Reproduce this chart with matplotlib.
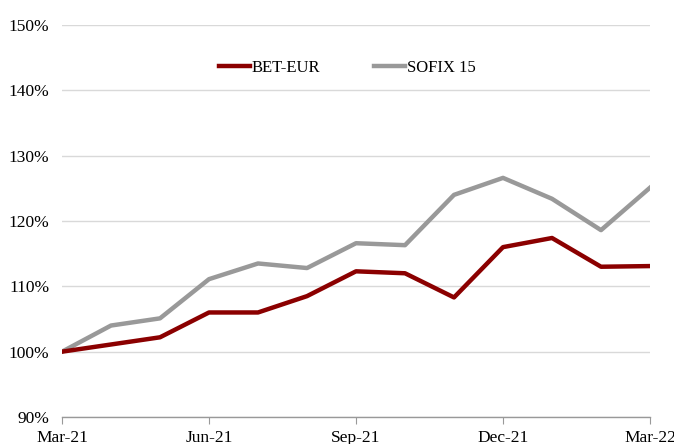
import matplotlib.pyplot as plt
from matplotlib.ticker import FuncFormatter

plt.rcParams['font.family'] = ['Liberation Serif', 'DejaVu Serif']

months = ['Mar-21', 'Apr-21', 'May-21', 'Jun-21', 'Jul-21', 'Aug-21', 'Sep-21',
          'Oct-21', 'Nov-21', 'Dec-21', 'Jan-22', 'Feb-22', 'Mar-22']
bet_eur = [100.0, 101.1, 102.2, 106.0, 106.0, 108.5, 112.3,
           112.0, 108.3, 116.0, 117.4, 113.0, 113.1]
sofix15 = [100.0, 104.0, 105.1, 111.1, 113.5, 112.8, 116.6,
           116.3, 124.0, 126.6, 123.4, 118.6, 125.1]
tick_labels = ['Mar-21', 'Jun-21', 'Sep-21', 'Dec-21', 'Mar-22']


def main():
    fig = plt.figure(figsize=(6.74, 4.44), dpi=100)
    ax = fig.add_axes([0.092, 0.0608, 0.8724, 0.8829])
    x = list(range(len(months)))

    ax.plot(x, bet_eur, color='#8b0000', lw=3.2, label='BET-EUR', zorder=3)
    ax.plot(x, sofix15, color='#999999', lw=3.2, label='SOFIX 15', zorder=2)

    ax.set_xlim(0, len(months) - 1)
    ax.set_ylim(90, 150)
    ax.set_yticks(range(90, 151, 10))
    ax.yaxis.set_major_formatter(FuncFormatter(lambda v, p: f'{v:.0f}%'))
    ax.set_xticks([months.index(t) for t in tick_labels])
    ax.set_xticklabels(tick_labels)

    ax.grid(axis='y', color='#d9d9d9', lw=1.0, zorder=0)
    ax.set_axisbelow(True)
    for side in ('left', 'right', 'top'):
        ax.spines[side].set_visible(False)
    ax.spines['bottom'].set_color('#999999')
    ax.spines['bottom'].set_linewidth(1.0)
    ax.tick_params(axis='y', length=0, pad=9, labelsize=12.5)
    ax.tick_params(axis='x', direction='out', length=5, color='#999999',
                   pad=4, labelsize=12.5)

    ax.legend(loc='upper center', bbox_to_anchor=(0.485, 0.95), ncol=2,
              frameon=False, fontsize=12, handlelength=1.9, handletextpad=0.1,
              columnspacing=3.2)

    fig.savefig('out.png', dpi=100)


main()
